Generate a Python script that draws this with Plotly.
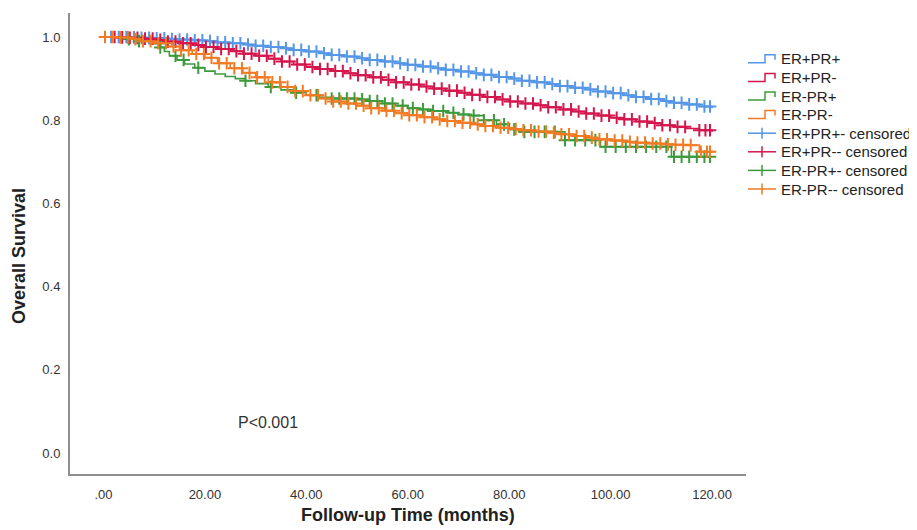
import numpy as np
import plotly.graph_objects as go

# ---------------- data ----------------
groups = ["ER+PR+", "ER+PR-", "ER-PR+", "ER-PR-"]
colors = ["#5596e6", "#d4164d", "#3c9a3c", "#f27a22"]

t_25 = [0, 2.5, 5, 7.5, 10, 12.5, 15, 17.5, 20, 22.5, 25, 27.5, 30, 32.5, 35, 37.5,
        40, 42.5, 45, 47.5, 50, 52.5, 55, 57.5, 60, 62.5, 65, 67.5, 70, 72.5, 75, 77.5,
        80, 82.5, 85, 87.5, 90, 92.5, 95, 97.5, 100, 102.5, 105, 107.5, 110, 112.5, 115,
        117.5, 120]

erpos_prpos_t = t_25
erpos_prpos_s = [1.000, 1.000, 0.999, 0.998, 0.997, 0.995, 0.994, 0.992, 0.990, 0.987,
                 0.985, 0.982, 0.979, 0.976, 0.973, 0.969, 0.965, 0.961, 0.957, 0.953,
                 0.949, 0.945, 0.941, 0.937, 0.933, 0.929, 0.925, 0.921, 0.917, 0.913,
                 0.909, 0.904, 0.900, 0.895, 0.891, 0.887, 0.882, 0.878, 0.874, 0.869,
                 0.865, 0.860, 0.856, 0.851, 0.846, 0.842, 0.838, 0.833, 0.829]

erpos_prneg_t = t_25
erpos_prneg_s = [1.000, 0.999, 0.998, 0.996, 0.993, 0.989, 0.985, 0.981, 0.976, 0.971,
                 0.966, 0.960, 0.955, 0.948, 0.941, 0.934, 0.928, 0.923, 0.918, 0.913,
                 0.908, 0.903, 0.897, 0.891, 0.886, 0.881, 0.876, 0.871, 0.866, 0.861,
                 0.856, 0.850, 0.845, 0.840, 0.836, 0.831, 0.826, 0.821, 0.816, 0.811,
                 0.806, 0.802, 0.797, 0.793, 0.788, 0.784, 0.780, 0.776, 0.772]

erneg_prpos_t = [0, 4, 7, 9, 11, 12, 13, 14.5, 16, 18, 20, 22, 24, 26, 28, 30, 32.5, 35,
                 37.5, 40, 42.5, 45, 50, 52.5, 55, 57.5, 60, 62.5, 65, 67.5, 70, 72.5, 75,
                 77.5, 80, 82, 91, 98, 112, 120]
erneg_prpos_s = [1.000, 0.995, 0.990, 0.984, 0.975, 0.965, 0.955, 0.945, 0.935, 0.926,
                 0.918, 0.911, 0.905, 0.900, 0.895, 0.888, 0.880, 0.873, 0.866, 0.860,
                 0.855, 0.852, 0.850, 0.846, 0.840, 0.835, 0.829, 0.826, 0.822, 0.818,
                 0.814, 0.811, 0.800, 0.790, 0.778, 0.772, 0.752, 0.736, 0.712, 0.712]

erneg_prneg_t = [0, 2.5, 5, 7.5, 10, 12.5, 15, 17.5, 20, 22.5, 25, 27.5, 30, 32.5, 35, 37.5,
                 40, 42.5, 45, 47.5, 50, 52.5, 55, 57.5, 60, 62.5, 65, 67.5, 70, 72.5, 75,
                 77.5, 80, 82.5, 85, 87.5, 90, 92.5, 95, 97.5, 100, 102.5, 105, 107.5, 110,
                 112.5, 115, 117.5, 120]
erneg_prneg_s = [1.000, 0.999, 0.995, 0.990, 0.985, 0.977, 0.968, 0.959, 0.950, 0.937,
                 0.925, 0.914, 0.903, 0.891, 0.880, 0.870, 0.860, 0.852, 0.845, 0.840,
                 0.835, 0.829, 0.823, 0.817, 0.812, 0.807, 0.802, 0.798, 0.794, 0.790,
                 0.786, 0.782, 0.779, 0.776, 0.773, 0.770, 0.766, 0.762, 0.758, 0.754,
                 0.751, 0.748, 0.746, 0.744, 0.742, 0.741, 0.740, 0.724, 0.724]

# censoring times
erpos_prpos_cens = [1.5, 3.0, 4.5, 6.0, 7.5, 9.0, 10.5, 12.0, 13.5, 15.0, 16.5, 18.0, 19.5,
                    21.0, 22.5, 24.0, 25.5, 27.0, 28.5, 30.0, 31.5, 33.0, 34.5, 36.0, 37.5,
                    39.0, 40.5, 42.0, 43.5, 45.0, 46.5, 48.0, 49.5, 51.0, 52.5, 54.0, 55.5,
                    57.0, 58.5, 60.0, 61.5, 63.0, 64.5, 66.0, 67.5, 69.0, 70.5, 72.0, 73.5,
                    75.0, 76.5, 78.0, 79.5, 81.0, 82.5, 84.0, 85.5, 87.0, 88.5, 90.0, 91.5,
                    93.0, 94.5, 96.0, 97.5, 99.0, 100.5, 102.0, 103.5, 105.0, 106.5, 108.0,
                    109.5, 111.0, 112.5, 114.0, 115.5, 117.0, 118.5, 119.6]
erpos_prneg_cens = [2.2, 3.7, 5.2, 6.7, 8.2, 9.7, 11.2, 12.7, 14.2, 15.7, 17.2, 18.7, 20.2,
                    21.7, 23.2, 24.7, 26.2, 27.7, 29.2, 30.7, 32.2, 33.7, 35.2, 36.7, 38.2,
                    39.7, 41.2, 42.7, 44.2, 45.7, 47.2, 48.7, 50.2, 51.7, 53.2, 54.7, 56.2,
                    57.7, 59.2, 60.7, 62.2, 63.7, 65.2, 66.7, 68.2, 69.7, 71.2, 72.7, 74.2,
                    75.7, 77.2, 78.7, 80.2, 81.7, 83.2, 84.7, 86.2, 87.7, 89.2, 90.7, 92.2,
                    93.7, 95.2, 96.7, 98.2, 99.7, 101.2, 102.7, 104.2, 105.7, 107.2, 108.7,
                    110.2, 111.7, 113.2, 114.7, 117.5, 118.7, 119.6]
erneg_prpos_cens = [5.0, 7.0, 11.2, 14.2, 15.8, 18.7, 28.0, 33.0, 38.0, 42.0, 45.0, 46.5,
                    48.0, 49.5, 51.0, 52.5, 54.0, 55.5, 57.0, 59.0, 61.0, 63.0, 65.0, 67.0,
                    69.0, 71.0, 73.0, 75.0, 77.0, 79.0, 81.0, 83.0, 85.0, 87.0, 89.0, 91.0,
                    93.0, 95.0, 97.0, 99.0, 101.0, 103.0, 105.0, 107.0, 109.0, 111.0, 112.5,
                    114.0, 115.5, 117.0, 118.5, 119.6]
erneg_prneg_cens = [0.3, 1.8, 3.3, 4.8, 6.3, 7.8, 9.3, 10.8, 12.3, 13.8, 15.3, 16.8, 18.3,
                    19.8, 21.3, 22.8, 24.3, 25.8, 27.3, 28.8, 30.3, 31.8, 33.3, 34.8, 36.3,
                    37.8, 39.3, 40.8, 42.3, 43.8, 45.3, 46.8, 48.3, 49.8, 51.3, 52.8, 54.3,
                    55.8, 57.3, 58.8, 60.3, 61.8, 63.3, 64.8, 66.3, 67.8, 69.3, 70.8, 72.3,
                    73.8, 75.3, 76.8, 78.3, 79.8, 81.3, 82.8, 84.3, 85.8, 87.3, 88.8, 90.3,
                    91.8, 93.3, 94.8, 96.3, 97.8, 99.3, 100.8, 102.3, 103.8, 105.3, 106.8,
                    108.3, 109.8, 111.3, 112.8, 114.3, 115.8, 117.8, 119.0, 119.6]

x_tickvals = [0, 20, 40, 60, 80, 100, 120]
x_ticktext = [".00", "20.00", "40.00", "60.00", "80.00", "100.00", "120.00"]
y_tickvals = [0.0, 0.2, 0.4, 0.6, 0.8, 1.0]
y_ticktext = ["0.0", "0.2", "0.4", "0.6", "0.8", "1.0"]
p_text = "P<0.001"
x_title = "Follow-up Time (months)"
y_title = "Overall Survival"

series = [
    (erpos_prpos_t, erpos_prpos_s, erpos_prpos_cens),
    (erpos_prneg_t, erpos_prneg_s, erpos_prneg_cens),
    (erneg_prpos_t, erneg_prpos_s, erneg_prpos_cens),
    (erneg_prneg_t, erneg_prneg_s, erneg_prneg_cens),
]

# ---------------- figure ----------------
OFF = 8  # the page body adds an 8px margin; design in window pixels and shift
W, H = 917 - OFF, 530 - OFF
L, R, T, B = 70 - OFF, 746 - OFF, 13 - OFF, 474 - OFF  # plot area in figure pixels
FONT = "Liberation Sans, Arial"

fig = go.Figure()
for (t, s, c), col, name in zip(series, colors, groups):
    fig.add_trace(go.Scatter(x=t, y=s, mode="lines", line=dict(color=col, width=1.6, shape="hv"),
                             name=name, showlegend=False, hoverinfo="skip"))
for (t, s, c), col, name in zip(series, colors, groups):
    ta = np.asarray(t, float)
    sa = np.asarray(s, float)
    idx = np.searchsorted(ta, np.asarray(c, float), side="right") - 1
    cy = sa[idx]
    fig.add_trace(go.Scatter(x=c, y=cy, mode="markers",
                             marker=dict(symbol="cross-thin", size=9,
                                         line=dict(color=col, width=2)),
                             name=name + "- censored", showlegend=False))


def px(xw):
    """window pixel x -> paper coordinate"""
    return (xw - OFF - L) / (R - L)


def py(yw):
    """window pixel y -> paper coordinate"""
    return (B - (yw - OFF)) / (B - T)


shapes = []
annotations = []
row0, dy = 58.8, 18.6
labels = groups + [g + "- censored" for g in groups]
for i, lab in enumerate(labels):
    yc = row0 + i * dy
    col = colors[i % 4]
    if i < 4:
        path = (f"M{px(748)},{py(yc + 4)} L{px(765)},{py(yc + 4)} L{px(765)},{py(yc - 4)} "
                f"L{px(775)},{py(yc - 4)} L{px(775)},{py(yc + 1)}")
        shapes.append(dict(type="path", xref="paper", yref="paper", path=path,
                           line=dict(color=col, width=1.5)))
    else:
        shapes.append(dict(type="line", xref="paper", yref="paper", x0=px(748), x1=px(776),
                           y0=py(yc), y1=py(yc), line=dict(color=col, width=1.5)))
        shapes.append(dict(type="line", xref="paper", yref="paper", x0=px(762), x1=px(762),
                           y0=py(yc - 5.5), y1=py(yc + 5.5), line=dict(color=col, width=1.5)))
    annotations.append(dict(text=lab, xref="paper", yref="paper", x=px(779), y=py(yc),
                            xanchor="left", yanchor="middle", showarrow=False,
                            font=dict(family=FONT, size=15, color="#222222")))

annotations.append(dict(text=p_text, x=32.5, y=0.074, xref="x", yref="y", showarrow=False,
                        xanchor="center", yanchor="middle",
                        font=dict(family=FONT, size=16, color="#333333")))
annotations.append(dict(text=f"<b>{x_title}</b>", xref="paper", yref="paper",
                        x=px(408), y=py(515), xanchor="center", yanchor="middle",
                        showarrow=False,
                        font=dict(family=FONT, size=18, color="#222222")))
annotations.append(dict(text=f"<b>{y_title}</b>", xref="paper", yref="paper",
                        x=px(19), y=py(256), xanchor="center", yanchor="middle",
                        textangle=-90, showarrow=False,
                        font=dict(family=FONT, size=18, color="#222222")))

fig.update_layout(
    width=W, height=H,
    margin=dict(l=L, r=W - R, t=T, b=H - B, pad=0, autoexpand=False),
    paper_bgcolor="white", plot_bgcolor="white",
    showlegend=False,
    shapes=shapes, annotations=annotations,
    font=dict(family=FONT, color="#333333"),
)
fig.update_xaxes(range=[-6.6, 126.7], tickvals=x_tickvals, ticktext=x_ticktext,
                 showgrid=False, zeroline=False, showline=True, linecolor="#8f8f8f",
                 linewidth=2, ticks="", ticklabelstandoff=7,
                 tickfont=dict(size=13, color="#333333"))
fig.update_yaxes(range=[-0.0505, 1.0577], tickvals=y_tickvals, ticktext=y_ticktext,
                 showgrid=False, zeroline=False, showline=True, linecolor="#8f8f8f",
                 linewidth=2, ticks="", ticklabelstandoff=5,
                 tickfont=dict(size=13, color="#333333"))

fig.write_html("out.html")
